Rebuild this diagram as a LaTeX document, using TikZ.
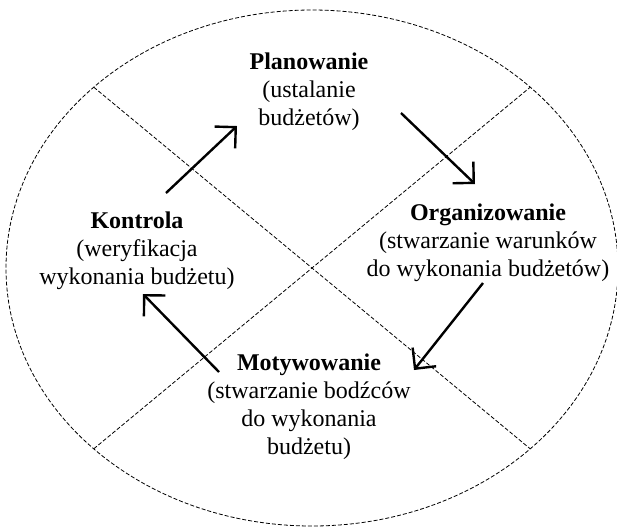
\documentclass[tikz,border=0pt]{standalone}
\usepackage{fontspec}
\setmainfont{Liberation Serif}
\usetikzlibrary{arrows.meta}
\tikzset{faza/.style={align=center, inner sep=0pt, font=\fontsize{12}{14}\selectfont},
  podzial/.style={dash pattern=on 2pt off 1pt, line width=0.4pt},
  strzalka/.style={->, line width=1.2pt},
  >={Straight Barb[length=7.5pt,width=15pt]}}

\begin{document}
\begin{tikzpicture}[x=0.5pt, y=-0.5pt]
  \useasboundingbox (0,0) rectangle (617,527);
  \coordinate (O) at (312,268);
  \draw[podzial] (O) ellipse [x radius=306, y radius=258];

  % linie podzialu
  \path (O) ++(-135.5:306 and 258) coordinate (lg);
  \path (O) ++(-44.5:306 and 258) coordinate (pg);
  \path (O) ++(135.5:306 and 258) coordinate (ld);
  \path (O) ++(44.5:306 and 258) coordinate (pd);
  \draw[podzial] (lg) -- (pd);
  \draw[podzial] (ld) -- (pg);

  \node[faza] (plan) at (309,91.5) {\textbf{Planowanie}\\(ustalanie\\budżetów)};
  \node[faza] (org) at (488,243) {\textbf{Organizowanie}\\(stwarzanie warunków\\do wykonania budżetów)};
  \node[faza] (mot) at (309,407) {\textbf{Motywowanie}\\(stwarzanie bodźców\\do wykonania\\budżetu)};
  \node[faza] (kon) at (137,251) {\textbf{Kontrola}\\(weryfikacja\\wykonania budżetu)};

  \coordinate (k1) at (166,193);
  \coordinate (p1) at (237,126);
  \coordinate (p2) at (401,113);
  \coordinate (o1) at (475,184);
  \coordinate (o2) at (483,283);
  \coordinate (m1) at (414,370);
  \coordinate (m2) at (219,372);
  \coordinate (k2) at (143,294);

  \draw[strzalka] (k1) -- (p1);
  \draw[strzalka] (p2) -- (o1);
  \draw[strzalka] (o2) -- (m1);
  \draw[strzalka] (m2) -- (k2);
\end{tikzpicture}
\end{document}
